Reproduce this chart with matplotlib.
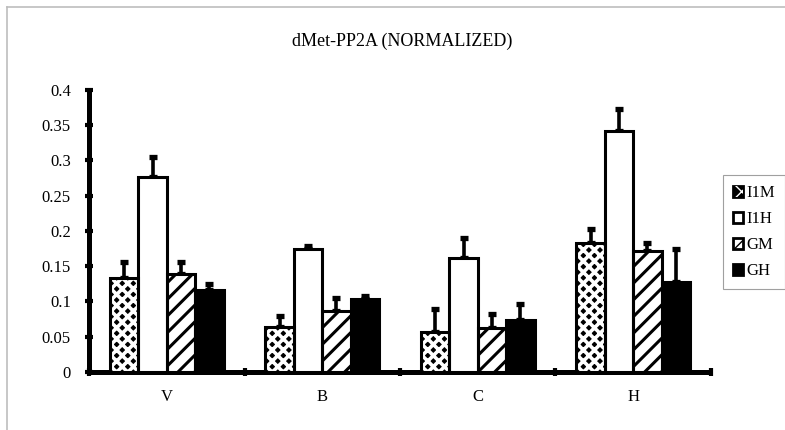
import numpy as np
import matplotlib
matplotlib.use('Agg')
import matplotlib.pyplot as plt
from matplotlib.patches import Patch
from matplotlib.lines import Line2D
from matplotlib.legend_handler import HandlerTuple

# ── DATA ──────────────────────────────────────────────────────────────────────
categories = ['V', 'B', 'C', 'H']
series     = ['I1M', 'I1H', 'GM', 'GH']
i1m     = [0.134, 0.064, 0.057, 0.183]
i1m_err = [0.022, 0.015, 0.033, 0.020]
i1h     = [0.276, 0.174, 0.162, 0.342]
i1h_err = [0.029, 0.005, 0.028, 0.031]
gm      = [0.139, 0.087, 0.062, 0.171]
gm_err  = [0.017, 0.018, 0.020, 0.012]
gh      = [0.117, 0.103, 0.074, 0.128]
gh_err  = [0.008, 0.005, 0.022, 0.047]
yticks  = [0, 0.05, 0.1, 0.15, 0.2, 0.25, 0.3, 0.35, 0.4]

FONT = 'Liberation Serif'
plt.rcParams['font.family'] = [FONT, 'DejaVu Serif']

fig = plt.figure(figsize=(7.85, 4.3), dpi=100)
ax = fig.add_axes([0.1134, 0.1349, 0.7923, 0.6558])

x  = np.arange(len(categories))
bw = 0.183
vals = [i1m, i1h, gm, gh]
errs = [i1m_err, i1h_err, gm_err, gh_err]
offs = [-1.5, -0.5, 0.5, 1.5]


def hatch_lw(patches, lw):
    for p in patches:
        if hasattr(p, 'set_hatch_linewidth'):
            p.set_hatch_linewidth(lw)


# ── BARS ──────────────────────────────────────────────────────────────────────
for k, (v, e) in enumerate(zip(vals, errs)):
    xs = x + offs[k] * bw
    ax.errorbar(xs, v, yerr=[np.zeros(len(v)), e], fmt='none', ecolor='black',
                elinewidth=2.6, capsize=3, capthick=3.8, zorder=2)
    if k == 0:   # black diamonds, white lattice
        ax.bar(xs, v, width=bw, color='black', lw=0, zorder=3)
        with plt.rc_context({'hatch.linewidth': 2.6}):
            h = ax.bar(xs, v, width=bw, facecolor='none', edgecolor='white',
                       hatch='xxx', lw=0, zorder=4)
        hatch_lw(h, 2.6)
    elif k == 1:
        ax.bar(xs, v, width=bw, color='white', lw=0, zorder=3)
    elif k == 2:
        with plt.rc_context({'hatch.linewidth': 2.2}):
            h = ax.bar(xs, v, width=bw, facecolor='white', edgecolor='black',
                       hatch='//', lw=0, zorder=3)
        hatch_lw(h, 2.2)
    else:
        ax.bar(xs, v, width=bw, color='black', lw=0, zorder=3)
    ax.bar(xs, v, width=bw, facecolor='none', edgecolor='black', lw=2.2, zorder=5)

# ── AXES ──────────────────────────────────────────────────────────────────────
ax.set_xlim(-0.5, len(categories) - 0.5)
ax.set_ylim(0, 0.4)
for s in ['top', 'right']:
    ax.spines[s].set_visible(False)
for s in ['left', 'bottom']:
    ax.spines[s].set_linewidth(3.6)
    ax.spines[s].set_capstyle('butt')
ax.set_yticks(yticks)
ax.set_yticklabels([f'{t:g}' for t in yticks], fontsize=12)
ax.set_xticks(np.arange(len(categories) + 1) - 0.5)
ax.set_xticklabels([])
ax.set_xticks(x, minor=True)
ax.set_xticklabels(categories, minor=True, fontsize=12)
ax.tick_params(axis='both', which='major', direction='inout', length=6, width=3)
ax.tick_params(axis='y', pad=10)
ax.tick_params(axis='x', which='minor', length=0, pad=12)

fig.text(0.512, 0.905, 'dMet-PP2A (NORMALIZED)', ha='center', va='center', fontsize=13)

# ── LEGEND ────────────────────────────────────────────────────────────────────
with plt.rc_context({'hatch.linewidth': 1.5}):
    handles = [
        (Patch(facecolor='black', edgecolor='black', lw=2),
         Patch(facecolor='none', edgecolor='white', hatch='xx', lw=0)),
        Patch(facecolor='white', edgecolor='black', lw=2),
        Patch(facecolor='white', edgecolor='black', hatch='//', lw=2),
        Patch(facecolor='black', edgecolor='black', lw=2),
    ]
leg = fig.legend(handles, series, loc='center left', bbox_to_anchor=(0.921, 0.46),
                 fancybox=False, framealpha=1, edgecolor='#a0a0a0', fontsize=12,
                 handlelength=0.6, handleheight=0.6, handletextpad=0.2,
                 labelspacing=0.6, borderpad=0.6, borderaxespad=0,
                 handler_map={tuple: HandlerTuple(ndivide=1)})
leg.get_frame().set_linewidth(0.8)

# outer chart border (top + left visible)
fig.add_artist(Line2D([0.009, 1.0], [0.984, 0.984], color='#bdbdbd', lw=1.2))
fig.add_artist(Line2D([0.009, 0.009], [0.0, 0.984], color='#bdbdbd', lw=1.2))

fig.savefig('out.png', dpi=100)
